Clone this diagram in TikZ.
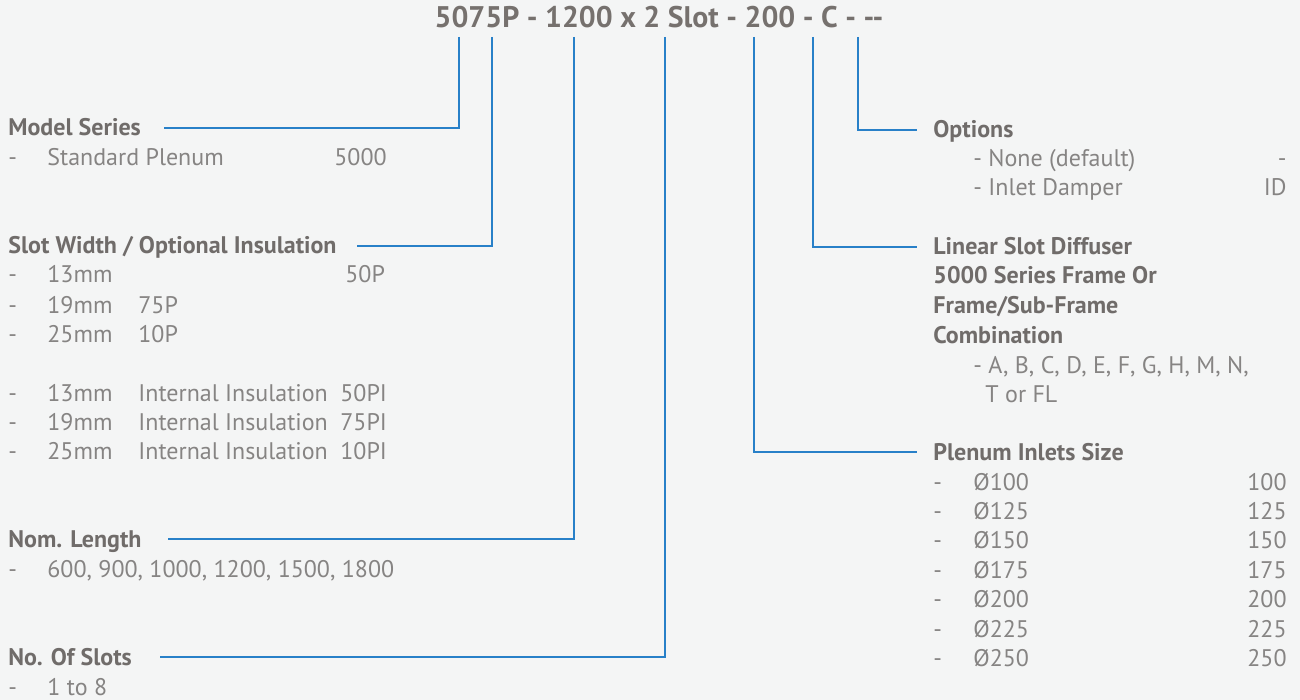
\documentclass[tikz,border=0pt]{standalone}
\usepackage{fontspec}
\setmainfont{PT Sans}
\definecolor{bgcol}{RGB}{244,245,245}
\definecolor{titlecol}{RGB}{118,113,110}
\definecolor{headcol}{RGB}{112,108,106}
\definecolor{bodycol}{RGB}{134,132,131}
\definecolor{linecol}{RGB}{40,128,200}
\tikzset{
  head/.style={anchor=base west, inner sep=0pt, text height=8pt, text depth=0pt,
    text=headcol, font=\fontsize{12}{14}\selectfont\bfseries},
  item/.style={anchor=base west, inner sep=0pt, text=bodycol,
    font=\fontsize{12}{14}\selectfont},
  num/.style={item, anchor=base east},
  link/.style={linecol, line width=0.7pt},
}
\begin{document}
\begin{tikzpicture}[x=0.5pt,y=-0.5pt]
\fill[bgcol] (0,0) rectangle (1300,700);
\useasboundingbox (0,0) rectangle (1300,700);

% product code
\node[anchor=base, inner sep=0pt, text=titlecol, font=\fontsize{14.9}{16}\selectfont\bfseries] (code) at (659,28) {5075P - 1200 x 2 Slot - 200 - C - -{}-};
\coordinate (c1) at (459,37);
\coordinate (c2) at (492,37);
\coordinate (c3) at (574,37);
\coordinate (c4) at (665,37);
\coordinate (c5) at (754,37);
\coordinate (c6) at (813,37);
\coordinate (c7) at (858,37);

% left column
\node[head] (ms) at (8,136) {Model Series};
\node[item] (ms0) at (8,166) {-};
\node[item] (ms1) at (47,166) {Standard Plenum};
\node[item] (ms2) at (334,166) {5000};

\node[head] (sw) at (8,254) {Slot Width / Optional Insulation};
\node[item] (swa0) at (8,283) {-};
\node[item] (swa1) at (47,283) {13mm};
\node[item] (swa2) at (345,283) {50P};
\node[item] (swb0) at (8,313) {-};
\node[item] (swb1) at (47,313) {19mm};
\node[item] (swb2) at (138,313) {75P};
\node[item] (swc0) at (8,342) {-};
\node[item] (swc1) at (47,342) {25mm};
\node[item] (swc2) at (138,342) {10P};
\foreach \y/\w/\c [count=\i] in {401/13mm/50PI, 430/19mm/75PI, 459/25mm/10PI} {
  \node[item] (ins\i a) at (8,\y) {-};
  \node[item] (ins\i b) at (47,\y) {\w};
  \node[item] (ins\i c) at (138,\y) {Internal Insulation};
  \node[item] (ins\i d) at (340,\y) {\c};
}

\node[head] (nl) at (8,547) {Nom. Length};
\node[item] (nl0) at (8,577) {-};
\node[item] (nl1) at (47,577) {600, 900, 1000, 1200, 1500, 1800};

\node[head] (ns) at (8,665) {No. Of Slots};
\node[item] (ns0) at (8,695) {-};
\node[item] (ns1) at (47,695) {1 to 8};

% right column
\node[head] (op) at (933,138) {Options};
\node[item] (opa) at (973,167) {- None (default)};
\node[num] (opa1) at (1287,167) {-};
\node[item] (opb) at (973,196) {- Inlet Damper};
\node[num] (opb1) at (1287,196) {ID};

\node[head] (ls) at (933,255) {Linear Slot Diffuser};
\node[head] (ls2) at (933,284) {5000 Series Frame Or};
\node[head] (ls3) at (933,314) {Frame/Sub-Frame};
\node[head] (ls4) at (933,343) {Combination};
\node[item] (lsa) at (973,373) {- A, B, C, D, E, F, G, H, M, N,};
\node[item] (lsb) at (985,402) {T or FL};

\node[head] (pi) at (933,460) {Plenum Inlets Size};
\foreach \y/\d [count=\i] in {490/100, 519/125, 548/150, 578/175, 607/200, 637/225, 666/250} {
  \node[item] (pi\i a) at (933,\y) {-};
  \node[item] (pi\i b) at (973,\y) {Ø\d};
  \node[num] (pi\i c) at (1287,\y) {\d};
}

% connectors
\draw[link, shorten >=11.5pt] (c1) |- (ms.east);
\draw[link, shorten >=10pt] (c2) |- (sw.east);
\draw[link, shorten >=13pt] (c3) |- (nl.east);
\draw[link, shorten >=14pt] (c4) |- (ns.east);
\draw[link, shorten >=8pt] (c5) |- (pi.west);
\draw[link, shorten >=8pt] (c6) |- (ls.west);
\draw[link, shorten >=8pt] (c7) |- (op.west);
\end{tikzpicture}
\end{document}
